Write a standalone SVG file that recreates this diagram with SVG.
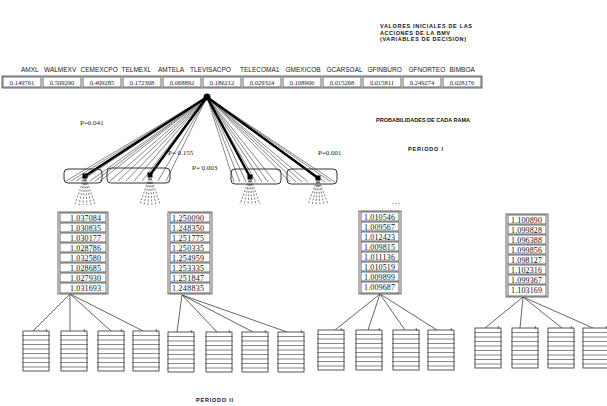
<svg xmlns="http://www.w3.org/2000/svg" width="607" height="406" viewBox="0 0 607 406">
<defs>
<style>
.hdr{font-family:"Liberation Sans",Arial,sans-serif;font-size:6.5px;fill:#222}
.val{font-family:"Liberation Serif","Times New Roman",serif;font-size:6.5px;fill:#222;text-anchor:middle}
.num{font-family:"Liberation Serif","Times New Roman",serif;font-size:8px;fill:#111}
.ttl{font-family:"Liberation Sans",Arial,sans-serif;font-size:5.5px;font-weight:bold;fill:#111}
.prob{font-family:"Liberation Serif","Times New Roman",serif;font-size:7px;fill:#222}
.cell{fill:#fff;stroke:#444;stroke-width:0.8}
.outer{fill:#fff;stroke:#555;stroke-width:0.9}
.thick{stroke:#000;stroke-width:2.4;fill:none}
.thin{stroke:#555;stroke-width:0.7;fill:none}
.dash{stroke:#444;stroke-width:0.7;stroke-dasharray:2 1.5;fill:none}
.conn{stroke:#555;stroke-width:0.9;fill:none}
.branch{fill:none;stroke:#333;stroke-width:1}
</style>
<symbol id="stack" overflow="visible">
<rect x="0" y="0" width="26" height="40" fill="#fff" stroke="#444" stroke-width="0.9"/>
<path d="M-1 4.5H27M-1 9H27M-1 13.5H27M-1 18H27M-1 22.5H27M-1 27H27M-1 31.5H27M-1 36H27" stroke="#555" stroke-width="0.7"/>
<path d="M23 -2L24 1" stroke="#444" stroke-width="0.8"/>
</symbol>
</defs>
<rect width="607" height="406" fill="#fff"/>

<g id="titles">
<text class="ttl" x="380" y="28" textLength="92">VALORES INICIALES DE LAS</text>
<text class="ttl" x="380" y="34.5" textLength="70">ACCIONES DE LA BMV</text>
<text class="ttl" x="380" y="41" textLength="86">(VARIABLES DE DECISION)</text>
<text class="ttl" x="376" y="122" textLength="94">PROBABILIDADES DE CADA RAMA</text>
<text class="ttl" x="408" y="151" textLength="35">PERIODO I</text>
<text class="ttl" x="196" y="402" textLength="37">PERIODO II</text>
<text class="ttl" x="392" y="204">. . .</text>
</g>

<g id="initial-values">
<text class="hdr" x="21" y="72">AMXL</text>
<text class="hdr" x="44" y="72">WALMEXV</text>
<text class="hdr" x="80.5" y="72">CEMEXCPO</text>
<text class="hdr" x="121.5" y="72">TELMEXL</text>
<text class="hdr" x="158" y="72">AMTELA</text>
<text class="hdr" x="190" y="72">TLEVISACPO</text>
<text class="hdr" x="240" y="72">TELECOMA1</text>
<text class="hdr" x="285.5" y="72">GMEXICOB</text>
<text class="hdr" x="326.5" y="72">GCARSOAL</text>
<text class="hdr" x="367.5" y="72">GFINBURO</text>
<text class="hdr" x="408.5" y="72">GFNORTEO</text>
<text class="hdr" x="449.5" y="72">BIMBOA</text>
<rect class="outer" x="2" y="76" width="480" height="12"/>
<rect class="cell" x="3" y="77" width="38" height="10"/>
<rect class="cell" x="43" y="77" width="38" height="10"/>
<rect class="cell" x="83" y="77" width="38" height="10"/>
<rect class="cell" x="123" y="77" width="38" height="10"/>
<rect class="cell" x="163" y="77" width="38" height="10"/>
<rect class="cell" x="203" y="77" width="38" height="10"/>
<rect class="cell" x="243" y="77" width="38" height="10"/>
<rect class="cell" x="283" y="77" width="38" height="10"/>
<rect class="cell" x="323" y="77" width="38" height="10"/>
<rect class="cell" x="363" y="77" width="38" height="10"/>
<rect class="cell" x="403" y="77" width="38" height="10"/>
<rect class="cell" x="443" y="77" width="38" height="10"/>
<text class="val" x="22" y="84.5">0.149761</text>
<text class="val" x="62" y="84.5">0.509290</text>
<text class="val" x="102" y="84.5">0.409285</text>
<text class="val" x="142" y="84.5">0.172308</text>
<text class="val" x="182" y="84.5">0.068892</text>
<text class="val" x="222" y="84.5">0.186212</text>
<text class="val" x="262" y="84.5">0.029324</text>
<text class="val" x="302" y="84.5">0.108906</text>
<text class="val" x="342" y="84.5">0.015268</text>
<text class="val" x="382" y="84.5">0.015811</text>
<text class="val" x="422" y="84.5">0.249274</text>
<text class="val" x="462" y="84.5">0.028176</text>
</g>

<g id="connectors">
<path class="thin" d="M207 97L66 181M207 97L71 181M207 97L76 181M207 97L81 181M207 97L90 181M207 97L95 181M207 97L100 181"/>
<path class="thin" d="M207 97L110 181M207 97L118 181M207 97L126 181M207 97L134 181M207 97L142 181M207 97L158 181M207 97L166 181"/>
<path class="thin" d="M207 97L234 182M207 97L240 182M207 97L246 182M207 97L256 182M207 97L262 182M207 97L268 182M207 97L275 182"/>
<path class="thin" d="M207 97L290 182M207 97L296 182M207 97L302 182M207 97L308 182M207 97L325 182M207 97L331 182M207 97L335 182"/>
<path class="thick" d="M207 97L85 176M207 97L150 175M207 97L250 177M207 97L318 178"/>
<path class="dash" d="M85 176L75 204M85 176L79 205M85 176L83 205M85 176L87 205M85 176L91 205M85 176L95 204"/>
<path class="dash" d="M150 175L140 204M150 175L144 205M150 175L148 205M150 175L152 205M150 175L156 205M150 175L160 204"/>
<path class="dash" d="M250 177L240 204M250 177L244 205M250 177L248 205M250 177L252 205M250 177L256 205M250 177L260 204"/>
<path class="dash" d="M318 178L308 204M318 178L312 205M318 178L316 205M318 178L320 205M318 178L324 205M318 178L328 204"/>
<path class="conn" d="M70 294L33 331M70 294L70 331M70 294L111 331M70 294L143 331"/>
<path class="conn" d="M182 295L177 332M182 295L217 332M182 295L253 332M182 295L287 332"/>
<path class="conn" d="M380 294L335 330M380 294L368 330M380 294L405 330M380 294L437 330"/>
<path class="conn" d="M523 297L485 328M523 297L520 328M523 297L562 328M523 297L593 328"/>
</g>

<g id="root"><circle cx="207" cy="97" r="3.5" fill="#000"/></g>

<g id="p-labels">
<text class="prob" x="80" y="125">P=0.041</text>
<text class="prob" x="168" y="155">P= 0.155</text>
<text class="prob" x="192" y="170">P= 0.003</text>
<text class="prob" x="318" y="155">P=0.001</text>
</g>

<g id="branch-1"><rect class="branch" x="64" y="169" width="38" height="14" rx="4"/><rect x="82.5" y="173.5" width="5" height="5" fill="#000"/></g>
<g id="branch-2"><rect class="branch" x="107" y="168" width="63" height="15" rx="4"/><rect x="147.5" y="172.5" width="5" height="5" fill="#000"/></g>
<g id="branch-3"><rect class="branch" x="231" y="169" width="50" height="15" rx="4"/><rect x="247.5" y="174.5" width="5" height="5" fill="#000"/></g>
<g id="branch-4"><rect class="branch" x="287" y="169" width="50" height="15" rx="4"/><rect x="315.5" y="175.5" width="5" height="5" fill="#000"/></g>

<g id="column-1" transform="translate(58,212)">
<rect class="outer" x="0" y="0" width="50" height="82"/>
<rect class="cell" x="2" y="1" width="46" height="9"/><rect class="cell" x="2" y="11" width="46" height="9"/><rect class="cell" x="2" y="21" width="46" height="9"/><rect class="cell" x="2" y="31" width="46" height="9"/><rect class="cell" x="2" y="41" width="46" height="9"/><rect class="cell" x="2" y="51" width="46" height="9"/><rect class="cell" x="2" y="61" width="46" height="9"/><rect class="cell" x="2" y="71" width="46" height="10"/>
<text class="num" x="12" y="8.5" textLength="31">1.037084</text>
<text class="num" x="12" y="18.5" textLength="31">1.030835</text>
<text class="num" x="12" y="28.5" textLength="31">1.030177</text>
<text class="num" x="12" y="38.5" textLength="31">1.028786</text>
<text class="num" x="12" y="48.5" textLength="31">1.032580</text>
<text class="num" x="12" y="58.5" textLength="31">1.028685</text>
<text class="num" x="12" y="68.5" textLength="31">1.027930</text>
<text class="num" x="12" y="78.5" textLength="31">1.031693</text>
</g>

<g id="column-2" transform="translate(168,212)">
<rect class="outer" x="0" y="0" width="44" height="82"/>
<rect class="cell" x="2" y="1" width="40" height="9"/><rect class="cell" x="2" y="11" width="40" height="9"/><rect class="cell" x="2" y="21" width="40" height="9"/><rect class="cell" x="2" y="31" width="40" height="9"/><rect class="cell" x="2" y="41" width="40" height="9"/><rect class="cell" x="2" y="51" width="40" height="9"/><rect class="cell" x="2" y="61" width="40" height="9"/><rect class="cell" x="2" y="71" width="40" height="10"/>
<text class="num" x="4" y="8.5" textLength="32">1.250090</text>
<text class="num" x="4" y="18.5" textLength="32">1.248350</text>
<text class="num" x="4" y="28.5" textLength="32">1.251775</text>
<text class="num" x="4" y="38.5" textLength="32">1.250335</text>
<text class="num" x="4" y="48.5" textLength="32">1.254959</text>
<text class="num" x="4" y="58.5" textLength="32">1.253335</text>
<text class="num" x="4" y="68.5" textLength="32">1.251847</text>
<text class="num" x="4" y="78.5" textLength="32">1.248835</text>
</g>

<g id="column-3" transform="translate(359,211)">
<rect class="outer" x="0" y="0" width="42" height="83"/>
<rect class="cell" x="2" y="1" width="38" height="9"/><rect class="cell" x="2" y="11" width="38" height="9"/><rect class="cell" x="2" y="21" width="38" height="9"/><rect class="cell" x="2" y="31" width="38" height="9"/><rect class="cell" x="2" y="41" width="38" height="9"/><rect class="cell" x="2" y="51" width="38" height="9"/><rect class="cell" x="2" y="61" width="38" height="9"/><rect class="cell" x="2" y="71" width="38" height="11"/>
<text class="num" x="5" y="8.5" textLength="31">1.010546</text>
<text class="num" x="5" y="18.5" textLength="31">1.009567</text>
<text class="num" x="5" y="28.5" textLength="31">1.012423</text>
<text class="num" x="5" y="38.5" textLength="31">1.009815</text>
<text class="num" x="5" y="48.5" textLength="31">1.011136</text>
<text class="num" x="5" y="58.5" textLength="31">1.010519</text>
<text class="num" x="5" y="68.5" textLength="31">1.009899</text>
<text class="num" x="5" y="78.5" textLength="31">1.009687</text>
</g>

<g id="column-4" transform="translate(506,214)">
<rect class="outer" x="0" y="0" width="42" height="83"/>
<rect class="cell" x="2" y="1" width="38" height="9"/><rect class="cell" x="2" y="11" width="38" height="9"/><rect class="cell" x="2" y="21" width="38" height="9"/><rect class="cell" x="2" y="31" width="38" height="9"/><rect class="cell" x="2" y="41" width="38" height="9"/><rect class="cell" x="2" y="51" width="38" height="9"/><rect class="cell" x="2" y="61" width="38" height="9"/><rect class="cell" x="2" y="71" width="38" height="11"/>
<text class="num" x="5" y="8.5" textLength="31">1.100890</text>
<text class="num" x="5" y="18.5" textLength="31">1.099828</text>
<text class="num" x="5" y="28.5" textLength="31">1.096388</text>
<text class="num" x="5" y="38.5" textLength="31">1.099856</text>
<text class="num" x="5" y="48.5" textLength="31">1.098127</text>
<text class="num" x="5" y="58.5" textLength="31">1.102316</text>
<text class="num" x="5" y="68.5" textLength="31">1.099367</text>
<text class="num" x="5" y="78.5" textLength="31">1.103169</text>
</g>

<g id="leaf-1a"><use href="#stack" x="23" y="331"/></g>
<g id="leaf-1b"><use href="#stack" x="61" y="331"/></g>
<g id="leaf-1c"><use href="#stack" x="98" y="331"/></g>
<g id="leaf-1d"><use href="#stack" x="133" y="331"/></g>
<g id="leaf-2a"><use href="#stack" x="168" y="332"/></g>
<g id="leaf-2b"><use href="#stack" x="206" y="332"/></g>
<g id="leaf-2c"><use href="#stack" x="242" y="332"/></g>
<g id="leaf-2d"><use href="#stack" x="278" y="332"/></g>
<g id="leaf-3a"><use href="#stack" x="318" y="330"/></g>
<g id="leaf-3b"><use href="#stack" x="356" y="330"/></g>
<g id="leaf-3c"><use href="#stack" x="393" y="330"/></g>
<g id="leaf-3d"><use href="#stack" x="428" y="330"/></g>
<g id="leaf-4a"><use href="#stack" x="475" y="328"/></g>
<g id="leaf-4b"><use href="#stack" x="512" y="328"/></g>
<g id="leaf-4c"><use href="#stack" x="548" y="328"/></g>
<g id="leaf-4d"><use href="#stack" x="583" y="328"/></g>
</svg>
